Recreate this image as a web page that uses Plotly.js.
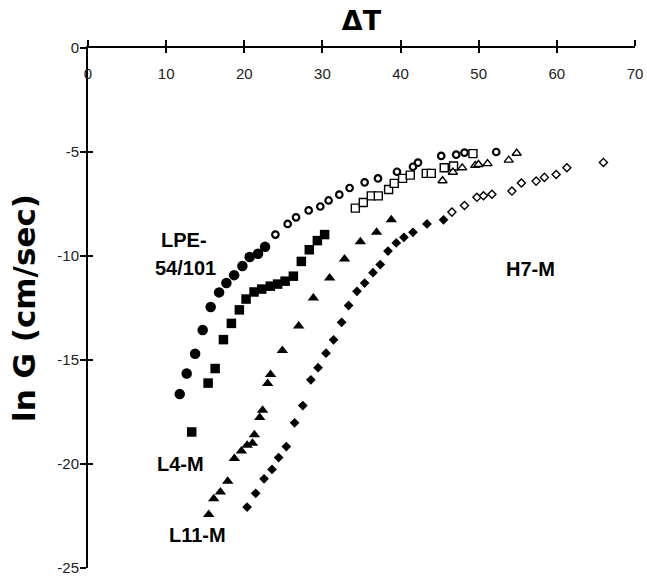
<!DOCTYPE html>
<html>
<head>
<meta charset="utf-8">
<script src="https://cdn.plot.ly/plotly-3.0.1.min.js"></script>
<style>html,body{margin:0;padding:0;background:#fff;}#chart{width:647px;height:577px;}</style>
</head>
<body>
<div id="chart"></div>
<script>
// LPE-54/101
const lpeFilledX = [11.74, 12.63, 13.71, 14.68, 15.70, 16.78, 17.71, 18.70, 19.76, 20.69, 21.76, 22.66];
const lpeFilledY = [-16.64, -15.65, -14.70, -13.56, -12.45, -11.75, -11.30, -10.92, -10.48, -10.05, -9.89, -9.56];
const lpeOpenX = [23.98, 25.55, 26.62, 28.24, 29.73, 30.79, 32.16, 33.48, 35.40, 37.11, 39.54, 41.59, 42.23, 45.20, 47.12, 48.18, 52.24];
const lpeOpenY = [-8.97, -8.46, -8.14, -7.81, -7.62, -7.33, -7.05, -6.73, -6.46, -6.27, -5.95, -5.71, -5.51, -5.19, -5.13, -5.03, -5.00];
// L4-M
const l4FilledX = [13.27, 15.37, 16.27, 17.33, 18.35, 19.37, 20.23, 21.25, 22.23, 23.34, 24.27, 25.22, 26.28, 27.30, 28.32, 29.35, 30.28];
const l4FilledY = [-18.46, -16.11, -15.41, -14.02, -13.24, -12.59, -12.07, -11.73, -11.59, -11.45, -11.35, -11.21, -10.97, -10.26, -9.70, -9.26, -8.97];
const l4OpenX = [34.21, 35.23, 36.25, 37.15, 38.47, 39.19, 40.26, 41.24, 43.29, 43.93, 45.59, 46.78, 49.26];
const l4OpenY = [-7.70, -7.43, -7.11, -7.11, -6.80, -6.51, -6.27, -6.11, -6.03, -6.03, -5.76, -5.67, -5.08];
// L11-M
const l11FilledX = [15.45, 16.09, 16.94, 17.88, 18.73, 19.63, 20.36, 21.04, 21.29, 21.97, 22.34, 22.99, 23.36, 24.87, 26.96, 28.84, 30.92, 32.83, 34.85, 36.93, 38.81];
const l11FilledY = [-22.43, -21.67, -21.35, -20.83, -19.73, -19.37, -19.10, -19.00, -18.59, -17.77, -17.41, -16.13, -15.70, -14.54, -13.37, -12.02, -11.06, -10.15, -9.32, -8.86, -8.26];
const l11OpenX = [45.37, 46.70, 47.89, 49.55, 49.97, 51.13, 53.84, 54.86];
const l11OpenY = [-6.38, -5.97, -5.76, -5.64, -5.60, -5.56, -5.39, -5.06];
// H7-M
const h7FilledX = [20.36, 21.46, 22.53, 23.55, 24.40, 25.38, 26.44, 27.49, 28.52, 29.44, 30.46, 31.43, 32.46, 33.35, 34.42, 35.40, 36.47, 37.40, 38.39, 39.45, 40.43, 41.59, 43.38, 45.50];
const h7FilledY = [-22.07, -21.41, -20.71, -20.26, -19.69, -19.16, -18.02, -17.19, -15.95, -15.37, -14.67, -14.03, -13.19, -12.38, -11.70, -11.30, -10.80, -10.41, -9.76, -9.37, -9.10, -8.86, -8.46, -8.26];
const h7OpenX = [46.57, 48.18, 49.77, 50.61, 51.69, 54.25, 55.46, 57.35, 58.41, 59.91, 61.28, 65.96];
const h7OpenY = [-7.89, -7.57, -7.18, -7.10, -7.03, -6.88, -6.49, -6.40, -6.22, -6.08, -5.76, -5.50];

const xTicks = [0, 10, 20, 30, 40, 50, 60, 70];
const yTicks = [0, -5, -10, -15, -20, -25];

function filled(x, y, symbol, size, name) {
  return {x: x, y: y, type: 'scatter', mode: 'markers', name: name, showlegend: false,
    marker: {symbol: symbol, size: size, color: '#000', line: {width: 0}}};
}
function open(x, y, symbol, size, name, lw) {
  return {x: x, y: y, type: 'scatter', mode: 'markers', name: name, showlegend: false,
    marker: {symbol: symbol, size: size, color: '#fff', line: {width: lw, color: '#000'}}};
}

const traces = [
  filled(lpeFilledX, lpeFilledY, 'circle', 10.5, 'LPE-54/101'),
  open(lpeOpenX, lpeOpenY, 'circle', 6.5, 'LPE-54/101', 2.2),
  filled(l4FilledX, l4FilledY, 'square', 9.5, 'L4-M'),
  open(l4OpenX, l4OpenY, 'square', 8, 'L4-M', 1.4),
  filled(l11FilledX, l11FilledY, 'triangle-up', 10, 'L11-M'),
  open(l11OpenX, l11OpenY, 'triangle-up', 8, 'L11-M', 1.4),
  filled(h7FilledX, h7FilledY, 'diamond', 7.5, 'H7-M'),
  open(h7OpenX, h7OpenY, 'diamond', 6.2, 'H7-M', 1.4),
  {x: [], y: [], xaxis: 'x2', yaxis: 'y2', type: 'scatter', mode: 'markers', showlegend: false, hoverinfo: 'skip'}
];

const tickFont = {family: 'Liberation Sans, Arial, sans-serif', size: 15, color: '#222'};
const lblFont = {family: 'Liberation Sans, Arial, sans-serif', size: 20, color: '#000', weight: 'bold'};

const layout = {
  width: 647, height: 577,
  margin: {l: 88, r: 12, t: 48, b: 9, autoexpand: false},
  paper_bgcolor: '#fff', plot_bgcolor: 'rgba(0,0,0,0)',
  showlegend: false,
  xaxis: {
    range: [0, 70], side: 'top', tickmode: 'array', tickvals: xTicks, ticktext: xTicks.map(String),
    ticks: 'outside', ticklen: 6, tickwidth: 2, tickcolor: '#000',
    showline: true, linewidth: 2, linecolor: '#000', showgrid: false, zeroline: false,
    ticklabelposition: 'inside', ticklabeloverflow: 'allow', tickfont: tickFont, ticklabelstandoff: 20,
    title: {text: 'ΔT', font: {family: 'DejaVu Sans, sans-serif', size: 27, color: '#000', weight: 'bold'}, standoff: 26},
    anchor: 'y', fixedrange: true, layer: 'above traces'
  },
  yaxis: {
    range: [-25, 0], tickmode: 'array', tickvals: yTicks, ticktext: yTicks.map(String),
    ticks: 'outside', ticklen: 6, tickwidth: 2, tickcolor: '#000',
    showline: true, linewidth: 2, linecolor: '#000', showgrid: false, zeroline: false,
    ticklabeloverflow: 'allow', tickfont: tickFont, ticklabelstandoff: -2,
    title: {text: 'ln G (cm/sec)', font: {family: 'DejaVu Sans, sans-serif', size: 31, color: '#000', weight: 'bold'}, standoff: 12},
    anchor: 'x', fixedrange: true, layer: 'above traces'
  },
  xaxis2: {
    range: [0, 70], overlaying: 'x', side: 'top', anchor: 'y2', tickmode: 'array', tickvals: xTicks,
    ticks: 'inside', ticklen: 5, tickwidth: 2, tickcolor: '#000', showticklabels: false,
    showline: false, showgrid: false, zeroline: false, fixedrange: true
  },
  yaxis2: {
    range: [-25, 0], overlaying: 'y', side: 'left', anchor: 'x2', tickmode: 'array', tickvals: yTicks,
    ticks: 'inside', ticklen: 5, tickwidth: 2, tickcolor: '#000', showticklabels: false,
    showline: false, showgrid: false, zeroline: false, fixedrange: true
  },
  annotations: [
    {x: 12.25, y: -9.21, xref: 'x', yref: 'y', text: 'LPE-', showarrow: false, font: lblFont},
    {x: 12.47, y: -10.56, xref: 'x', yref: 'y', text: '54/101', showarrow: false, font: lblFont},
    {x: 56.6, y: -10.64, xref: 'x', yref: 'y', text: 'H7-M', showarrow: false, font: lblFont},
    {x: 11.83, y: -19.99, xref: 'x', yref: 'y', text: 'L4-M', showarrow: false, font: lblFont},
    {x: 13.96, y: -23.41, xref: 'x', yref: 'y', text: 'L11-M', showarrow: false, font: lblFont}
  ]
};

Plotly.newPlot('chart', traces, layout, {displayModeBar: false, staticPlot: true});
</script>
</body>
</html>
